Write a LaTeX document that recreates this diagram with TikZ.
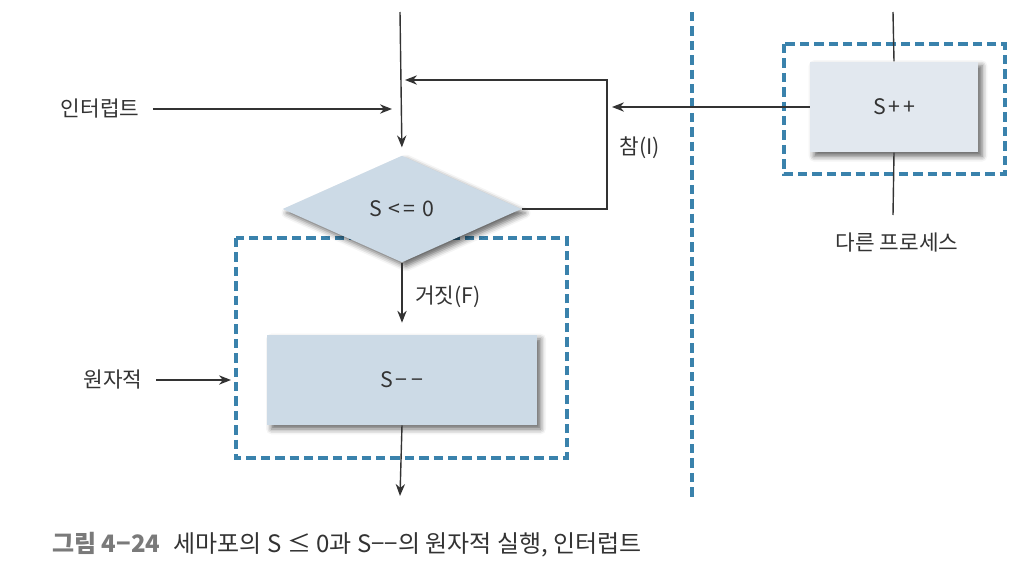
\documentclass[tikz,border=0pt]{standalone}
\usepackage{fontspec}
\setmainfont{Noto Sans CJK KR}
\usetikzlibrary{arrows.meta,shapes.geometric,shadows.blur}
\definecolor{ln}{HTML}{333333}
\definecolor{dashc}{HTML}{3A82AC}
\definecolor{fillA}{HTML}{CCDAE6}
\definecolor{fillB}{HTML}{E2E8EF}
\definecolor{capg}{HTML}{7A7A7A}
\tikzset{
  arr/.style={draw=ln, line width=1.05pt, -{Stealth[length=9pt,width=7pt]}},
  plain/.style={draw=ln, line width=1.05pt},
  dbox/.style={draw=dashc, line width=2.3pt, dash pattern=on 7pt off 3.8pt},
  lbl/.style={font=\fontsize{16}{18}\selectfont, text=ln, inner sep=0pt},
  shade/.style={blur shadow={shadow xshift=3pt, shadow yshift=-3pt, shadow blur radius=4pt, shadow opacity=60}},
}
\begin{document}
\begin{tikzpicture}[x=0.75pt,y=-0.75pt]
\useasboundingbox (0,0) rectangle (1028,564);
% dashed groupings
\draw[dbox] (236,238) rectangle (567,458);
\draw[dbox] (784,44) rectangle (1005,174);
\draw[dbox] (692,12) -- (692,500);
% nodes
\node[diamond, shade, fill=fillA, minimum width=179pt, minimum height=80pt, inner sep=0pt, lbl] (d) at (402,209) {S \kern1pt<\kern2pt= \kern2pt0};
\node[rectangle, shade, fill=fillA, minimum width=202pt, minimum height=67.5pt, lbl] (dec) at (402,380) {S\kern2pt−\kern3pt−};
\node[rectangle, shade, fill=fillB, minimum width=126pt, minimum height=68pt, lbl] (inc) at (894,107) {S\kern2pt+\kern2pt+};
\node[lbl] (intr) at (100,109) {인터럽트};
\node[lbl] (atom) at (113,380) {원자적};
\node[lbl] (other) at (897,243) {다른 프로세스};
\node[lbl] (yes) at (640,148) {참(I)};
\node[lbl] (no) at (448,297) {거짓(F)};
% coordinates
\coordinate (top) at (400,12);
\coordinate (loopin) at (405,80);
\coordinate (intrtip) at (392,109);
\coordinate (inctip) at (612,107);
\coordinate (rtop) at (893,12);
\coordinate (rbot) at (893,215);
\coordinate (bot) at (400,496);
\coordinate (atomtip) at (231,380);
% connectors
\draw[arr, shorten >=6pt] (top) -- (d.north);
\draw[arr] (d.east) -- (607,209) |- (loopin);
\draw[arr] ([xshift=10pt]intr.east) -- (intrtip);
\draw[arr] (inc.west) -- (inctip);
\draw[plain] (rtop) -- (inc.north);
\draw[plain] (inc.south) -- (rbot);
\draw[arr, shorten >=9pt] (d.south) -- (dec.north);
\draw[arr] (dec.south) -- (bot);
\draw[arr] ([xshift=10pt]atom.east) -- (atomtip);
% caption
\node[anchor=west, inner sep=0pt, font=\fontsize{18}{20}\selectfont] (cap) at (52,545) {\textcolor{capg}{\bfseries 그림 4−24}\hspace{10pt}\textcolor{ln}{세마포의 S ≤ 0과 S−−의 원자적 실행, 인터럽트}};
\end{tikzpicture}
\end{document}
